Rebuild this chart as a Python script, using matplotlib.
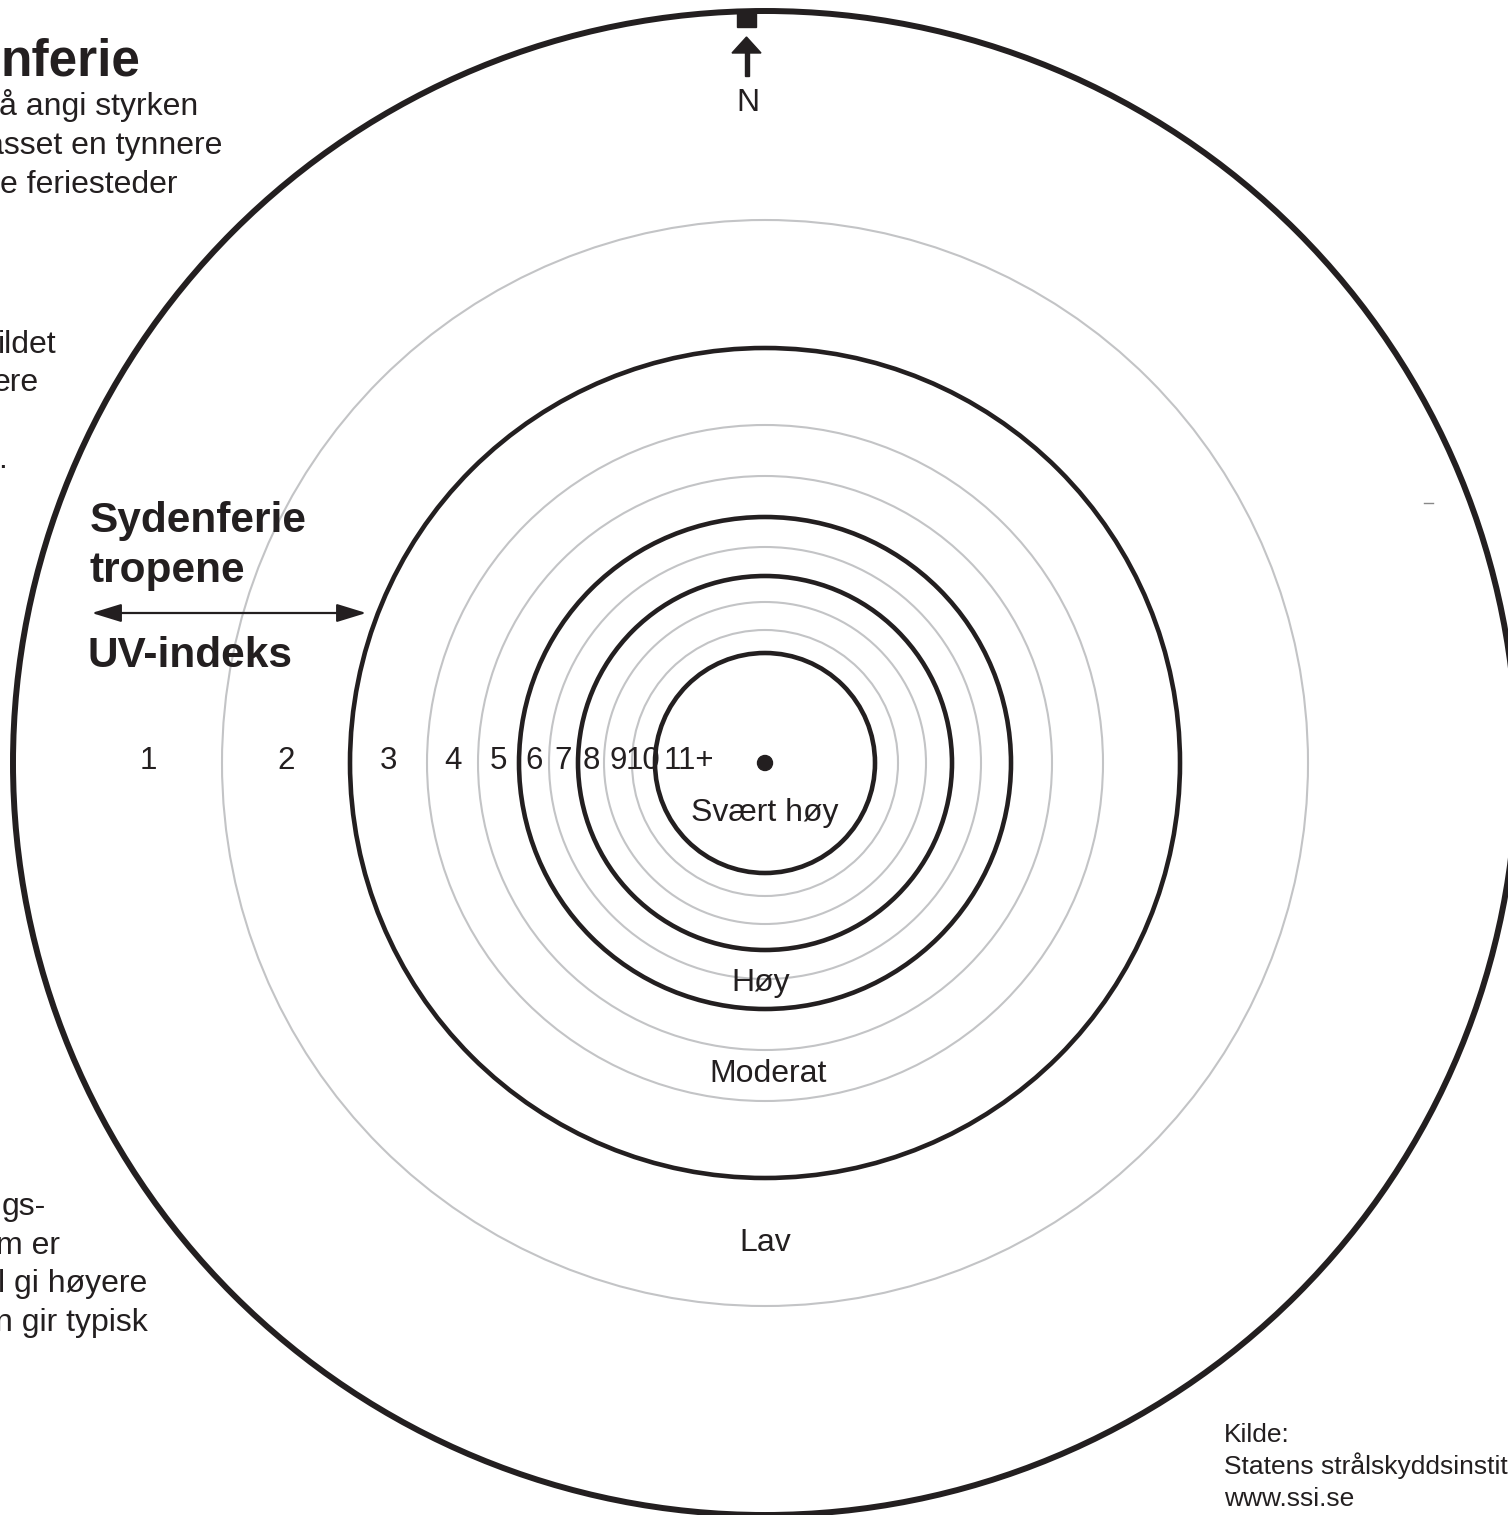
import matplotlib
matplotlib.use("Agg")
import matplotlib.pyplot as plt
from matplotlib.patches import Circle, Rectangle, Polygon, FancyArrowPatch

# ---------------- data ----------------
# ring boundary radii (px) from outside to inside, and whether the ring is a major (black) boundary
ring_radii = [752, 543, 415, 338, 287, 246, 216, 187, 161, 133, 110]
ring_major = [True, False, True, False, False, True, False, True, False, False, True]
uv_labels = ["1", "2", "3", "4", "5", "6", "7", "8", "9", "10", "11+"]
category_labels = ["Svært høy", "Høy", "Moderat", "Lav"]
top_text = ["å angi styrken", "asset en tynnere", "e feriesteder"]
mid_text = ["ildet", "ere", "", "."]
bottom_text = ["gs-", "m er", "l gi høyere", "n gir typisk"]
source_text = ["Kilde:", "Statens strålskyddsinstitut", "www.ssi.se"]

# ---------------- layout ----------------
W, H = 1508, 1515
cx, cy = 765, 763
FONT = "Liberation Sans"
INK = "#231f20"

fig = plt.figure(figsize=(W / 100, H / 100), dpi=100)
ax = fig.add_axes([0, 0, 1, 1])
ax.set_xlim(0, W)
ax.set_ylim(H, 0)
ax.set_aspect("equal")
ax.axis("off")

# rings
for i, (r, major) in enumerate(zip(ring_radii, ring_major)):
    if i == 0:
        lw, col = 4.3, INK
    elif major:
        lw, col = 3.3, INK
    else:
        lw, col = 1.5, "#c3c4c6"
    ax.add_patch(Circle((cx, cy), r, fill=False, lw=lw, ec=col, zorder=2 if major else 1))

# centre dot
ax.add_patch(Circle((cx, cy), 7.5, color=INK, zorder=3))

# UV index labels along the left horizontal radius
label_r = [(ring_radii[k] + ring_radii[k + 1]) / 2 for k in range(len(ring_radii) - 1)]
label_r[0] = 617
label_r.append(76)
for lab, r in zip(uv_labels, label_r):
    ax.text(cx - r, 769, lab, ha="center", va="baseline", fontsize=22.5,
            family=FONT, color=INK, zorder=1.5)

# category labels
cat_pos = [(765, 821), (761, 991), (768, 1082), (765, 1251)]
for lab, (x, y) in zip(category_labels, cat_pos):
    ax.text(x, y, lab, ha="center", va="baseline", fontsize=23, family=FONT,
            color=INK, zorder=4)

# North marker
ax.add_patch(Rectangle((737, 13), 19, 14, color=INK, zorder=4))
ax.add_patch(Polygon([(732, 53), (761, 53), (746.5, 37)], closed=True, color=INK, zorder=4))
ax.add_patch(Rectangle((744.5, 52), 4, 24, color=INK, zorder=4))
ax.text(748, 111, "N", ha="center", va="baseline", fontsize=23, family=FONT, color=INK)

# left-hand texts (fragments cut by the left edge; anchored at their right ends)
ax.text(140, 76, "nferie", ha="right", va="baseline", fontsize=37, fontweight="bold",
        family=FONT, color=INK)
for t, xr, y in zip(top_text, [198, 222, 177], [115, 154, 193]):
    ax.text(xr, y, t, ha="right", va="baseline", fontsize=23, family=FONT, color=INK)
for t, xr, y in zip(mid_text, [56, 39, 0, 7], [353, 391, 430, 468]):
    ax.text(xr, y, t, ha="right", va="baseline", fontsize=23, family=FONT, color=INK)
for t, xr, y in zip(bottom_text, [46, 60, 147, 148], [1215, 1254, 1292, 1331]):
    ax.text(xr, y, t, ha="right", va="baseline", fontsize=23, family=FONT, color=INK)

ax.text(90, 532, "Sydenferie", ha="left", va="baseline", fontsize=30.5, fontweight="bold",
        family=FONT, color=INK, zorder=4)
ax.text(90, 582, "tropene", ha="left", va="baseline", fontsize=30.5, fontweight="bold",
        family=FONT, color=INK, zorder=4)
ax.add_patch(FancyArrowPatch((89, 613), (369, 613), arrowstyle="<|-|>,head_length=1.3,head_width=0.4",
                             mutation_scale=14, lw=1.6, color=INK, zorder=4))
ax.text(88, 667, "UV-indeks", ha="left", va="baseline", fontsize=30.5, fontweight="bold",
        family=FONT, color=INK, zorder=4)

# source
for i, t in enumerate(source_text):
    ax.text(1224, 1442 + 32 * i, t, ha="left", va="baseline", fontsize=19, family=FONT, color=INK)

# small stray mark
ax.plot([1424, 1433], [503, 503], color="#888888", lw=1)

fig.savefig("out.png", dpi=100, facecolor="white")
